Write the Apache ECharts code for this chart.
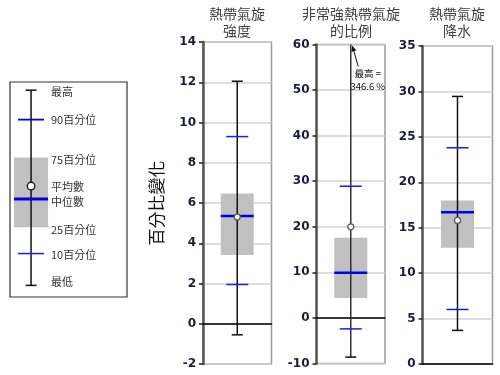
<!DOCTYPE html>
<html><head><meta charset="utf-8">
<script src="https://cdn.jsdelivr.net/npm/echarts@6/dist/echarts.min.js"></script>
<style>html,body{margin:0;padding:0;background:#fff}#c{width:500px;height:375px}</style>
</head><body><div id="c"></div>
<script>
// ---- data ----
const panelTitles = ['熱帶氣旋\n強度', '非常強熱帶氣旋\n的比例', '熱帶氣旋\n降水'];
const minVals    = [-0.55, -8.6, 3.7];
const p10Vals    = [1.95, -2.4, 6.0];
const q1Vals     = [3.42, 4.4, 12.8];
const medianVals = [5.35, 9.9, 16.7];
const meanVals   = [5.3, 20.0, 15.8];
const q3Vals     = [6.47, 17.6, 18.0];
const p90Vals    = [9.3, 28.9, 23.8];
const maxVals    = [12.05, 346.6, 29.45];
const yMins      = [-2, -10, 0];
const yMaxs      = [14, 60, 35];
const yIntervals = [2, 10, 5];
const yAxisTitle = '百分比變化';
const maxNoteLabel = '最高 =';
// legend schematic (max, p90, q3, mean, median, q1, p10, min)
const legendLabels = ['最高', '90百分位', '75百分位', '平均數', '中位數', '25百分位', '10百分位', '最低'];
const legendValues = [96.2, 82.5, 64.9, 51.6, 45.6, 32.4, 20.2, 5.4];

// ---- layout / style ----
const gridRects = [
  {left: 203, top: 42, width: 68.5, height: 322},
  {left: 316.5, top: 44.5, width: 68.5, height: 319},
  {left: 422.5, top: 46, width: 70, height: 318},
  {left: 10, top: 82, width: 117, height: 215}
];
const titleCenters = [237, 351, 457];
const legendLabelNudge = [2, 0, 2, 1, 3, 2, 1, -4];
const FONT = '"Noto Sans CJK TC", "Noto Sans", sans-serif';

const hline = (x1, x2, y, stroke, w) => ({type: 'line', shape: {x1, y1: y, x2, y2: y}, style: {stroke, lineWidth: w}});

function panelRender(i) {
  return function (params, api) {
    const yv = d => api.coord([0, api.value(d)])[1];
    const cx = api.coord([0, api.value(1)])[0];
    const yMn = yv(1), y10 = yv(2), yQ1 = yv(3), yMed = yv(4), yMean = yv(5), yQ3 = yv(6), y90 = yv(7), yMx = yv(8);
    const topY = api.coord([0, yMaxs[i]])[1];
    const wTop = Math.max(yMx, topY);
    const ch = [
      {type: 'rect', shape: {x: cx - 16.5, y: yQ3, width: 33, height: yQ1 - yQ3}, style: {fill: '#c0c0c0'}},
      {type: 'line', shape: {x1: cx, y1: yMn, x2: cx, y2: wTop}, style: {stroke: i === 1 ? '#333' : '#111', lineWidth: 1.5}},
      hline(cx - 5.5, cx + 5.5, yMn, '#111', 1.5),
      hline(cx - 11, cx + 11, y10, '#1a1aff', 1.5),
      hline(cx - 11, cx + 11, y90, '#1a1aff', 1.5),
      hline(cx - 16.5, cx + 16.5, yMed, '#0000e6', 2.5),
      {type: 'circle', shape: {cx, cy: yMean, r: 3}, style: {fill: '#fff', stroke: '#555', lineWidth: 1.2}}
    ];
    if (yMx >= topY) {
      ch.push(hline(cx - 5.5, cx + 5.5, yMx, '#111', 1.5));
    } else {
      const tx = cx + 1.5, ty = topY + 1;
      const sx = cx + 7.5, sy = topY + 22;
      const dx = tx - sx, dy = ty - sy, L = Math.hypot(dx, dy);
      const ux = dx / L, uy = dy / L;
      const bx = tx - ux * 6, by = ty - uy * 6;
      ch.push({type: 'line', shape: {x1: sx, y1: sy, x2: bx, y2: by}, style: {stroke: '#111', lineWidth: 1}});
      ch.push({type: 'polygon', shape: {points: [[tx, ty], [bx - uy * 2.5, by + ux * 2.5], [bx + uy * 2.5, by - ux * 2.5]]}, style: {fill: '#111'}});
      ch.push({type: 'text', x: cx + 17, y: topY + 22, style: {
        text: maxNoteLabel + '\n' + api.value(8).toFixed(1) + ' %', align: 'center', verticalAlign: 'top',
        fontSize: 9.5, lineHeight: 13, fill: '#111', fontFamily: FONT}});
    }
    return {type: 'group', children: ch};
  };
}

function legendRender(params, api) {
  const cx = api.coord([api.value(0), 0])[0];
  const lx = api.coord([35, 0])[0];
  const yv = d => api.coord([0, api.value(d)])[1];
  const yMx = yv(1), y90 = yv(2), yQ3 = yv(3), yMean = yv(4), yMed = yv(5), yQ1 = yv(6), y10 = yv(7), yMn = yv(8);
  const ch = [
    {type: 'rect', shape: {x: cx - 17, y: yQ3, width: 34, height: yQ1 - yQ3}, style: {fill: '#c0c0c0'}},
    {type: 'line', shape: {x1: cx, y1: yMn, x2: cx, y2: yMx}, style: {stroke: '#111', lineWidth: 1.5}},
    hline(cx - 5.5, cx + 5.5, yMx, '#111', 1.5),
    hline(cx - 5.5, cx + 5.5, yMn, '#111', 1.5),
    hline(cx - 13, cx + 13, y90, '#0000ff', 1.8),
    hline(cx - 13, cx + 13, y10, '#1a1aff', 1.5),
    hline(cx - 17, cx + 17, yMed, '#0000e6', 3),
    {type: 'circle', shape: {cx, cy: yMean, r: 3.8}, style: {fill: '#fff', stroke: '#111', lineWidth: 1.3}}
  ];
  legendLabels.forEach((t, k) => {
    ch.push({type: 'text', x: lx, y: yv(k + 1) + legendLabelNudge[k], style: {
      text: t, align: 'left', verticalAlign: 'middle', fontSize: 11, fill: '#333', fontFamily: FONT}});
  });
  return {type: 'group', children: ch};
}

const grid = gridRects.map((r, k) => Object.assign({show: true, borderColor: k === 3 ? '#333' : '#9a9a9a', borderWidth: k === 3 ? 1.2 : 1.5, backgroundColor: 'transparent', containLabel: false}, r));

const xAxis = [0, 1, 2].map(i => ({
  type: 'category', gridIndex: i, data: ['a'],
  axisLine: {show: true, onZero: true, lineStyle: {color: '#000', width: 1.5}},
  axisTick: {show: false}, axisLabel: {show: false}, splitLine: {show: false}
}));
xAxis.push({type: 'value', gridIndex: 3, min: 0, max: 100, show: false});

const yAxis = [0, 1, 2].map(i => ({
  type: 'value', gridIndex: i, min: yMins[i], max: yMaxs[i], interval: yIntervals[i],
  name: i === 0 ? yAxisTitle : '', nameLocation: 'middle', nameGap: 38,
  nameTextStyle: {fontSize: 17, color: '#111', fontFamily: FONT},
  axisLine: {show: true, onZero: false, lineStyle: {color: '#555', width: 2.5}},
  axisTick: {show: true, length: 4, lineStyle: {color: '#222', width: 1.5}},
  axisLabel: {fontFamily: '"DejaVu Sans", Verdana, sans-serif', fontWeight: 'bold', fontSize: 12, color: '#1c1c3a', margin: 7},
  splitLine: {show: true, lineStyle: {color: '#d2d2d2', width: 1.5}}
}));
yAxis.push({type: 'value', gridIndex: 3, min: 0, max: 100, show: false});

const series = [0, 1, 2].map(i => ({
  type: 'custom', xAxisIndex: i, yAxisIndex: i, clip: false, z: 5,
  renderItem: panelRender(i),
  encode: {x: 0, y: [1, 2, 3, 4, 5, 6, 7, 8]},
  data: [[0, minVals[i], p10Vals[i], q1Vals[i], medianVals[i], meanVals[i], q3Vals[i], p90Vals[i], maxVals[i]]]
}));
series.push({
  type: 'custom', xAxisIndex: 3, yAxisIndex: 3, clip: false, z: 5,
  renderItem: legendRender,
  encode: {x: 0, y: [1, 2, 3, 4, 5, 6, 7, 8]},
  data: [[18].concat(legendValues)]
});

const graphic = panelTitles.map((t, i) => ({
  type: 'text', x: titleCenters[i], y: 4.5,
  style: {text: t, align: 'center', verticalAlign: 'top', fontSize: 14, lineHeight: 17.5, fill: '#404040', fontFamily: FONT}
}));

const chart = echarts.init(document.getElementById('c'), null, {renderer: 'canvas'});
chart.setOption({
  animation: false,
  backgroundColor: '#fff',
  textStyle: {fontFamily: FONT},
  grid, xAxis, yAxis, series, graphic
});
</script>
</body></html>
